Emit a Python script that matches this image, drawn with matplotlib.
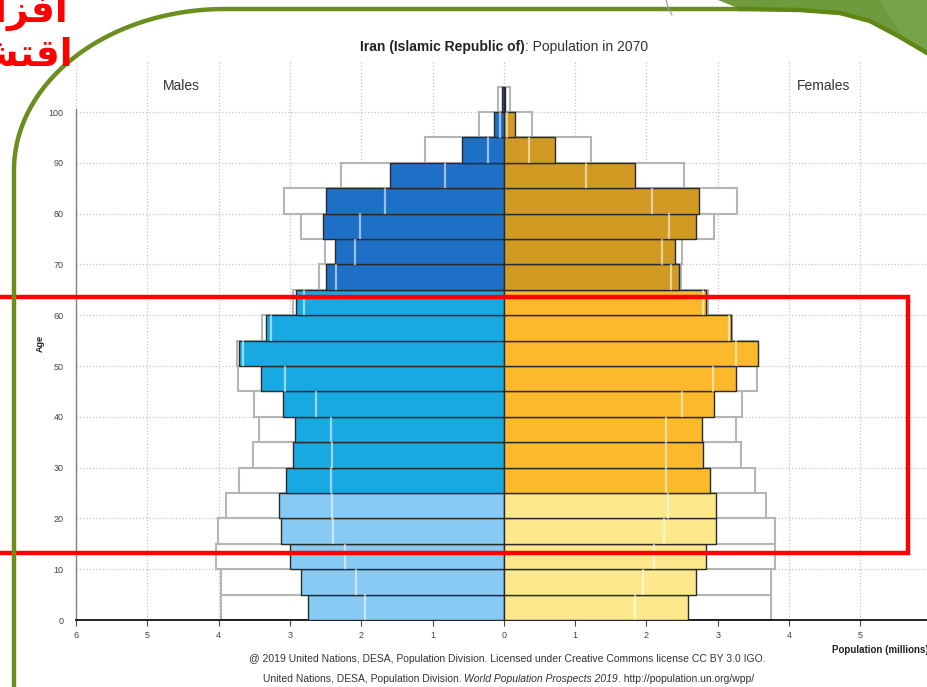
import matplotlib
matplotlib.use("Agg")
import matplotlib.pyplot as plt
from matplotlib.patches import Rectangle, Polygon
import numpy as np

plt.rcParams['font.family'] = ['Liberation Sans', 'DejaVu Sans']

# age groups 0-4 ... 95-99, 100+
age_start = [0, 5, 10, 15, 20, 25, 30, 35, 40, 45, 50, 55, 60, 65, 70, 75, 80, 85, 90, 95, 100]

# population in 2070 (millions)
male_2070 = [2.75, 2.85, 3.00, 3.13, 3.15, 3.05, 2.95, 2.93, 3.10, 3.41, 3.72,
             3.34, 2.92, 2.50, 2.37, 2.53, 2.50, 1.60, 0.59, 0.14, 0.02]
female_2070 = [2.59, 2.69, 2.84, 2.97, 2.97, 2.89, 2.80, 2.78, 2.95, 3.26, 3.57,
               3.19, 2.83, 2.46, 2.40, 2.69, 2.74, 1.84, 0.72, 0.16, 0.02]

# outline boxes
male_outline = [3.96, 3.96, 4.03, 4.01, 3.90, 3.72, 3.52, 3.44, 3.51, 3.73, 3.74,
                3.39, 2.95, 2.59, 2.51, 2.84, 3.08, 2.28, 1.10, 0.35, 0.08]
female_outline = [3.75, 3.75, 3.80, 3.80, 3.68, 3.52, 3.33, 3.25, 3.34, 3.55, 3.56,
                  3.20, 2.87, 2.48, 2.50, 2.95, 3.27, 2.52, 1.22, 0.40, 0.08]

# thin marker lines inside the bars
male_inner = [1.95, 2.07, 2.23, 2.39, 2.41, 2.43, 2.41, 2.42, 2.64, 3.07, 3.66,
              3.26, 2.80, 2.35, 2.09, 2.02, 1.67, 0.82, 0.22, 0.05, 0.0]
female_inner = [1.84, 1.95, 2.10, 2.24, 2.30, 2.28, 2.27, 2.27, 2.50, 2.94, 3.25,
                3.16, 2.79, 2.35, 2.22, 2.31, 2.08, 1.15, 0.35, 0.05, 0.0]

x_ticks = [-6, -5, -4, -3, -2, -1, 0, 1, 2, 3, 4, 5, 6]
y_ticks = [0, 10, 20, 30, 40, 50, 60, 70, 80, 90, 100]

W, H = 927, 687


def male_color(a):
    if a < 25:
        return '#87cbf5'
    if a < 65:
        return '#18a9e3'
    return '#1e6fc6'


def female_color(a):
    if a < 25:
        return '#fde98c'
    if a < 65:
        return '#fbb92b'
    return '#d09a23'


def place_segments(fig, y_px, segments, center_px, gap_px=0):
    # lay out differently styled pieces of one line side by side, centred
    renderer = fig.canvas.get_renderer()
    texts = [fig.text(0, 1 - y_px / H, s, va='center', ha='left', **kw) for s, kw in segments]
    widths = [t.get_window_extent(renderer).width for t in texts]
    total = sum(widths) + gap_px * (len(texts) - 1)
    x = center_px - total / 2
    for t, w in zip(texts, widths):
        t.set_x(x / W)
        x += w + gap_px


fig = plt.figure(figsize=(W / 100, H / 100), dpi=100)
fig.patch.set_facecolor('white')

ax = fig.add_axes([76 / W, 1 - 620 / H, 856 / W, 560 / H])
ax.set_xlim(-6, 6.005)
ax.set_ylim(0, 560 / 5.08)

ages = np.array(age_start)
yc = ages + 2.5

# outline boxes (white filled, grey border)
ax.barh(yc, -np.array(male_outline), height=5, color='white', edgecolor='#b5b5b5', linewidth=1.5, zorder=2)
ax.barh(yc, female_outline, height=5, color='white', edgecolor='#b5b5b5', linewidth=1.5, zorder=2)

# 2070 bars
ax.barh(yc, -np.array(male_2070), height=5, color=[male_color(a) for a in age_start],
        edgecolor='#2a2a2a', linewidth=1.0, zorder=3)
ax.barh(yc, female_2070, height=5, color=[female_color(a) for a in age_start],
        edgecolor='#2a2a2a', linewidth=1.0, zorder=3)

for a, m, f in zip(age_start, male_inner, female_inner):
    if m > 0:
        ax.plot([-m, -m], [a + 0.15, a + 4.85], color='white', alpha=0.55, lw=1.6, zorder=4)
    if f > 0:
        ax.plot([f, f], [a + 0.15, a + 4.85], color='white', alpha=0.55, lw=1.6, zorder=4)

ax.set_axisbelow(True)
ax.grid(True, linestyle=':', color='#c4c4c4', linewidth=0.9)
ax.set_xticks(x_ticks)
ax.set_xticklabels([str(abs(t)) for t in x_ticks])
ax.set_yticks(y_ticks)
ax.tick_params(axis='x', labelsize=6.5, colors='#444444', length=4, width=0.8, pad=4)
ax.tick_params(axis='y', labelsize=6.5, colors='#444444', length=0, pad=9)
for s in ['top', 'right']:
    ax.spines[s].set_visible(False)
ax.spines['bottom'].set_color('#111111')
ax.spines['bottom'].set_linewidth(1.3)
ax.spines['left'].set_color('#808080')
ax.spines['left'].set_linewidth(1.0)
ax.spines['left'].set_bounds(0, 100.5)
ax.patch.set_alpha(0)

ax.text(-4.52, 105.1, 'Males', ha='center', va='center', fontsize=10, color='#333333')
ax.text(4.49, 105.1, 'Females', ha='center', va='center', fontsize=10, color='#333333')

fig.text(40 / W, 1 - 343 / H, 'Age', rotation=90, ha='center', va='center',
         fontsize=6.5, fontweight='bold', color='#222222')
fig.text(832 / W, 1 - 650 / H, 'Population (millions)', ha='left', va='center',
         fontsize=7, fontweight='bold', color='#222222')

place_segments(fig, 47, [('Iran (Islamic Republic of)', dict(fontsize=10, fontweight='bold', color='#222222')),
                         (': Population in 2070', dict(fontsize=10, color='#333333'))], 504)
fig.text(507 / W, 1 - 659 / H,
         '@ 2019 United Nations, DESA, Population Division. Licensed under Creative Commons license CC BY 3.0 IGO.',
         ha='center', va='center', fontsize=7.5, color='#333333')
place_segments(fig, 679, [('United Nations, DESA, Population Division.', dict(fontsize=7.5, color='#333333')),
                          ('World Population Prospects 2019', dict(fontsize=7.5, style='italic', color='#333333')),
                          ('. http://population.un.org/wpp/', dict(fontsize=7.5, color='#333333'))], 507)
# second piece needs a space before it; nudge it and the tail right
texts = fig.texts[-3:]
for t in texts[1:]:
    t.set_x(t.get_position()[0] + 3 / W)

# slide decorations drawn in pixel coordinates
deco = fig.add_axes([0, 0, 1, 1], zorder=10)
deco.set_xlim(0, W)
deco.set_ylim(H, 0)
deco.axis('off')
deco.patch.set_alpha(0)

green = '#6b8e1e'
# left border with rounded top corner and top edge
t = np.linspace(np.pi, 1.5 * np.pi, 60)
cx, cy, rx, ry = 225, 170, 211, 161
arc_x = cx + rx * np.cos(t)
arc_y = cy + ry * np.sin(t)
bx = np.concatenate([[14], arc_x, [745]])
by = np.concatenate([[690], arc_y, [9]])
deco.plot(bx, by, color=green, lw=3.2, solid_capstyle='butt')

# top-right green shape
curve_x = [740, 800, 840, 870, 900, 927]
curve_y = [9, 10, 13, 21, 37, 53]
fill_pts = [(718, 0), (927, 0)] + list(zip(curve_x[::-1], curve_y[::-1])) + [(718, 0)]
deco.add_patch(Polygon(fill_pts, closed=True, facecolor='#6f9a3e', edgecolor='none'))
deco.add_patch(Polygon([(880, 0), (927, 0), (927, 53), (905, 40)], closed=True,
                       facecolor='#78a348', edgecolor='none'))
deco.plot(curve_x, curve_y, color='#5f8714', lw=3.2)
deco.plot([666, 668, 672], [0, 7, 15], color='#9a9a9a', lw=0.8)

# red highlight box
deco.add_patch(Rectangle((-5, 297), 913, 256, fill=False, edgecolor='#ff0000', linewidth=3.2))

# red Persian heading, cut off at the left edge (presentation forms, visual order)
line1 = '\ufeb6\ufef3\ufe8d\ufeb0\ufed3\ufe8d'      # افزایش
line2 = '\ufeef\ufea9\ufe8e\ufeb8\ufe98\ufed7\ufe8d'  # اقتصادی
deco.text(68, 22, line1, ha='right', va='baseline', fontsize=27, fontweight='bold',
          color='#ff0000', family=['DejaVu Sans'])
deco.text(73, 66, line2, ha='right', va='baseline', fontsize=27, fontweight='bold',
          color='#ff0000', family=['DejaVu Sans'])

fig.savefig('out.png', dpi=100, facecolor='white')
